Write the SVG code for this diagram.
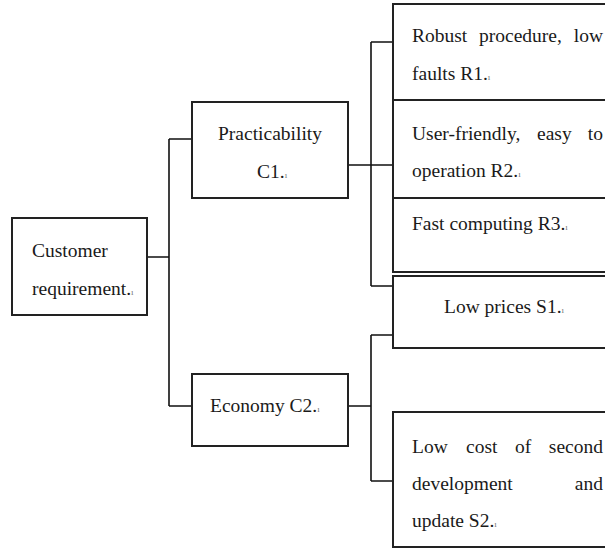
<svg xmlns="http://www.w3.org/2000/svg" width="605" height="551" viewBox="0 0 605 551">
<style>
.box{fill:#fff;stroke:#222;stroke-width:2}
.ln{fill:none;stroke:#111;stroke-width:1.6}
.t{font-family:'Liberation Serif','DejaVu Serif','Times New Roman',serif;font-size:19.5px;fill:#1a1a1a}
.pm{font-size:9px;fill:#777}
</style>
<rect width="605" height="551" fill="#fff"/>
<g id="connectors">
<path class="ln" d="M147 257 H169 M169 139 V406 M169 139 H192 M169 406 H192"/>
<path class="ln" d="M348 165 H393 M371 42 V286 M371 42 H393 M371 286 H393"/>
<path class="ln" d="M348 406 H371 M371 335 V481 M371 335 H393 M371 481 H393"/>
</g>
<g id="customer">
<rect class="box" x="12" y="218" width="135" height="97"/>
<text class="t" x="32" y="257">Customer</text>
<text class="t" x="32" y="295">requirement.<tspan class="pm">ı</tspan></text>
</g>
<g id="c1">
<rect class="box" x="192" y="102" width="156" height="96"/>
<text class="t" x="270" y="140" text-anchor="middle">Practicability</text>
<text class="t" x="257" y="178">C1.<tspan class="pm">ı</tspan></text>
</g>
<g id="c2">
<rect class="box" x="192" y="374" width="156" height="72"/>
<text class="t" x="210" y="412">Economy C2.<tspan class="pm">ı</tspan></text>
</g>
<g id="r1">
<rect class="box" x="393" y="4" width="220" height="96"/>
<text class="t" x="412" y="42">Robust</text>
<text class="t" x="479" y="42">procedure,</text>
<text class="t" x="603" y="42" text-anchor="end">low</text>
<text class="t" x="412" y="80">faults R1.<tspan class="pm">ı</tspan></text>
</g>
<g id="r2">
<rect class="box" x="393" y="100" width="220" height="98"/>
<text class="t" x="412" y="140">User-friendly,</text>
<text class="t" x="537" y="140">easy</text>
<text class="t" x="603" y="140" text-anchor="end">to</text>
<text class="t" x="412" y="177">operation R2.<tspan class="pm">ı</tspan></text>
</g>
<g id="r3">
<rect class="box" x="393" y="198" width="220" height="74"/>
<text class="t" x="412" y="230">Fast computing R3.<tspan class="pm">ı</tspan></text>
</g>
<g id="s1">
<rect class="box" x="393" y="276" width="220" height="72"/>
<text class="t" x="444" y="313">Low prices S1.<tspan class="pm">ı</tspan></text>
</g>
<g id="s2">
<rect class="box" x="393" y="412" width="220" height="135"/>
<text class="t" x="412" y="453">Low</text>
<text class="t" x="466" y="453">cost</text>
<text class="t" x="515" y="453">of</text>
<text class="t" x="603" y="453" text-anchor="end">second</text>
<text class="t" x="412" y="490">development</text>
<text class="t" x="603" y="490" text-anchor="end">and</text>
<text class="t" x="412" y="527">update S2.<tspan class="pm">ı</tspan></text>
</g>
</svg>
